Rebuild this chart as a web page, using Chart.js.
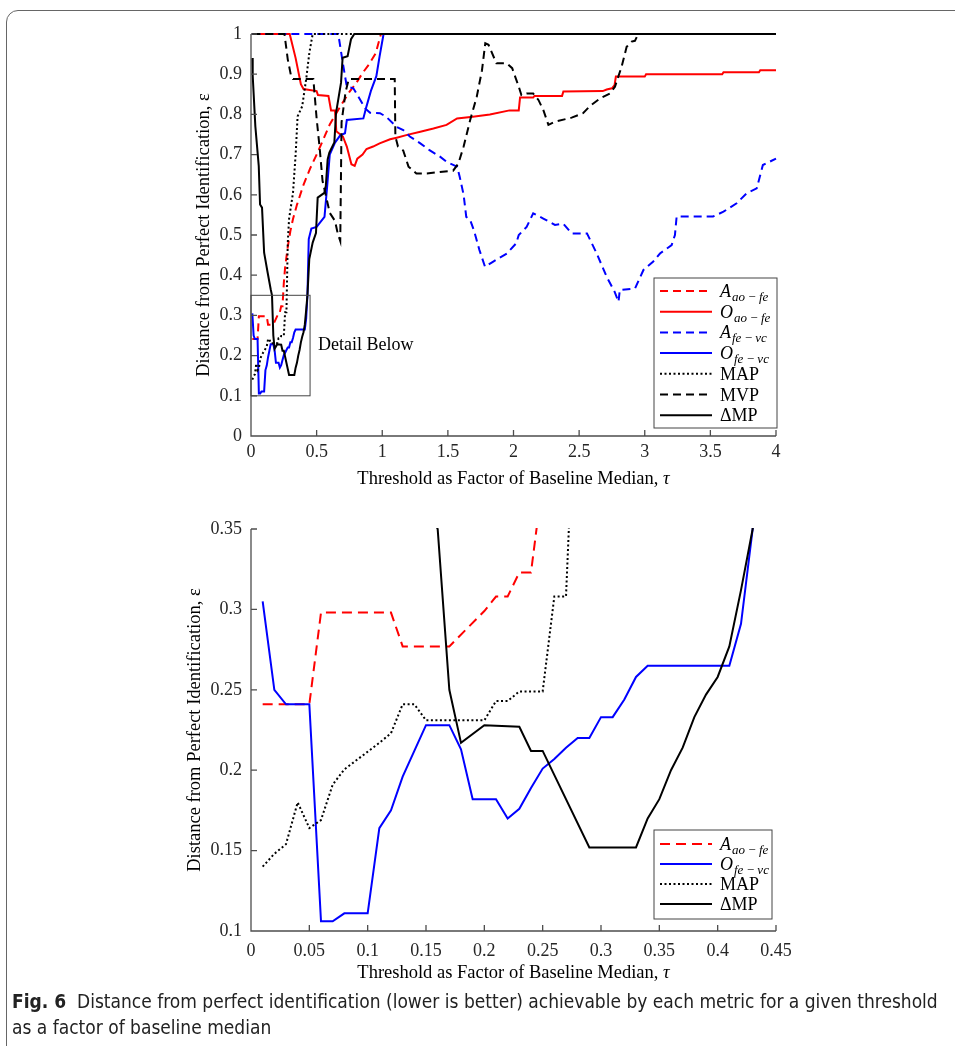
<!DOCTYPE html>
<html>
<head>
<meta charset="utf-8">
<title>Fig. 6</title>
<script src="https://cdn.jsdelivr.net/npm/chart.js@4.4.0/dist/chart.umd.min.js"></script>
<style>
  html, body { margin: 0; padding: 0; background: #fff; }
  body { width: 955px; height: 1046px; position: relative; overflow: hidden; }
  #frame { position: absolute; left: 6px; top: 10px; width: 1000px; height: 1100px;
           border: 1.5px solid #666; border-radius: 12px; box-sizing: border-box; }
  canvas { position: absolute; left: 0; }
  #topChart { top: 0; }
  #bottomChart { top: 500px; }
  #caption { position: absolute; left: 12px; top: 988px; color: #222; white-space: nowrap;
             font-family: "Liberation Sans Narrow", "DejaVu Sans Condensed", "Open Sans", sans-serif;
             font-size: 19px; line-height: 26px; }
</style>
</head>
<body>
<div id="frame"></div>
<canvas id="topChart" width="955" height="500"></canvas>
<canvas id="bottomChart" width="955" height="500"></canvas>
<div id="caption"><b>Fig. 6</b>&nbsp; Distance from perfect identification (lower is better) achievable by each metric for a given threshold<br>as a factor of baseline median</div>
<script>
// readings: threshold tau (x) and distance epsilon (y) for each metric
const aAoFeX = [0.01, 0.05, 0.06, 0.12, 0.13, 0.17, 0.20, 0.21, 0.22, 0.23, 0.24, 0.25, 0.26, 0.28, 0.30, 0.32, 0.35, 0.40, 0.45, 0.50, 0.55, 0.60, 0.65, 0.70, 0.75, 0.80, 0.85, 0.90, 0.95, 0.99, 4.00];
const aAoFeY = [0.241, 0.241, 0.298, 0.298, 0.277, 0.277, 0.299, 0.308, 0.308, 0.323, 0.323, 0.38, 0.42, 0.47, 0.51, 0.54, 0.575, 0.625, 0.665, 0.70, 0.737, 0.775, 0.803, 0.83, 0.856, 0.877, 0.903, 0.925, 0.952, 1.0, 1.0];

const oAoFeX = [0.01, 0.295, 0.34, 0.38, 0.40, 0.50, 0.51, 0.59, 0.61, 0.64, 0.65, 0.70, 0.73, 0.765, 0.79, 0.81, 0.85, 0.88, 0.93, 0.98, 1.06, 1.11, 1.19, 1.29, 1.39, 1.49, 1.57, 1.69, 1.82, 1.97, 2.04, 2.05, 2.15, 2.16, 2.37, 2.38, 2.68, 2.71, 2.75, 2.77, 2.78, 3.00, 3.01, 3.59, 3.60, 3.87, 3.88, 4.00];
const oAoFeY = [1, 1, 0.94, 0.875, 0.863, 0.858, 0.848, 0.846, 0.81, 0.81, 0.758, 0.745, 0.72, 0.676, 0.672, 0.69, 0.70, 0.714, 0.72, 0.728, 0.738, 0.742, 0.749, 0.757, 0.765, 0.774, 0.79, 0.794, 0.80, 0.81, 0.81, 0.842, 0.842, 0.846, 0.846, 0.857, 0.858, 0.862, 0.865, 0.873, 0.894, 0.894, 0.90, 0.90, 0.905, 0.905, 0.91, 0.91];

const aFeVcX = [0.01, 0.665, 0.70, 0.73, 0.78, 0.818, 0.856, 0.87, 0.907, 0.983, 1.03, 1.11, 1.16, 1.21, 1.29, 1.36, 1.44, 1.49, 1.57, 1.59, 1.62, 1.64, 1.67, 1.70, 1.74, 1.783, 1.846, 1.95, 2.02, 2.04, 2.10, 2.15, 2.227, 2.316, 2.38, 2.443, 2.56, 2.634, 2.71, 2.77, 2.80, 2.81, 2.926, 2.99, 3.065, 3.116, 3.205, 3.23, 3.243, 3.52, 3.60, 3.70, 3.777, 3.853, 3.90, 4.00];
const aFeVcY = [1, 1, 0.927, 0.869, 0.865, 0.844, 0.823, 0.815, 0.804, 0.803, 0.794, 0.769, 0.761, 0.745, 0.728, 0.711, 0.695, 0.682, 0.67, 0.645, 0.60, 0.545, 0.537, 0.51, 0.463, 0.421, 0.434, 0.454, 0.479, 0.50, 0.52, 0.554, 0.541, 0.525, 0.528, 0.504, 0.504, 0.454, 0.396, 0.359, 0.334, 0.363, 0.367, 0.413, 0.434, 0.454, 0.475, 0.50, 0.546, 0.546, 0.558, 0.579, 0.604, 0.616, 0.674, 0.69];

const oFeVcX = [0.01, 0.02, 0.03, 0.05, 0.06, 0.07, 0.08, 0.10, 0.11, 0.12, 0.13, 0.14, 0.15, 0.17, 0.18, 0.19, 0.21, 0.22, 0.23, 0.24, 0.25, 0.26, 0.27, 0.28, 0.29, 0.30, 0.31, 0.32, 0.33, 0.34, 0.41, 0.42, 0.43, 0.44, 0.46, 0.50, 0.56, 0.58, 0.60, 0.64, 0.68, 0.716, 0.73, 0.856, 0.88, 0.915, 0.955, 0.98, 1.01, 4.00];
const oFeVcY = [0.305, 0.25, 0.241, 0.241, 0.106, 0.106, 0.111, 0.111, 0.164, 0.175, 0.196, 0.212, 0.228, 0.228, 0.213, 0.182, 0.182, 0.170, 0.176, 0.189, 0.201, 0.207, 0.214, 0.220, 0.220, 0.233, 0.233, 0.244, 0.258, 0.265, 0.265, 0.291, 0.35, 0.49, 0.516, 0.52, 0.545, 0.62, 0.70, 0.73, 0.748, 0.753, 0.786, 0.79, 0.82, 0.86, 0.895, 0.945, 1.0, 1.0];

const mapX = [0.01, 0.02, 0.03, 0.04, 0.05, 0.06, 0.07, 0.08, 0.09, 0.10, 0.11, 0.12, 0.13, 0.14, 0.15, 0.20, 0.21, 0.22, 0.23, 0.25, 0.26, 0.27, 0.28, 0.29, 0.32, 0.34, 0.355, 0.39, 0.42, 0.445, 0.47, 4.00];
const mapY = [0.140, 0.148, 0.154, 0.180, 0.164, 0.169, 0.191, 0.2005, 0.206, 0.2115, 0.217, 0.223, 0.241, 0.241, 0.231, 0.231, 0.243, 0.243, 0.249, 0.249, 0.308, 0.308, 0.48, 0.54, 0.605, 0.70, 0.795, 0.82, 0.887, 0.954, 1.0, 1.0];

const mvpX = [0.01, 0.255, 0.28, 0.305, 0.32, 0.475, 0.50, 0.525, 0.545, 0.60, 0.64, 0.66, 0.68, 0.69, 0.72, 0.745, 1.095, 1.10, 1.12, 1.16, 1.20, 1.26, 1.34, 1.44, 1.54, 1.58, 1.62, 1.67, 1.72, 1.76, 1.785, 1.81, 1.87, 1.95, 1.99, 2.04, 2.06, 2.10, 2.15, 2.19, 2.227, 2.266, 2.316, 2.443, 2.53, 2.58, 2.66, 2.735, 2.773, 2.824, 2.862, 2.90, 2.925, 2.95, 4.00];
const mvpY = [1, 1, 0.937, 0.896, 0.888, 0.888, 0.79, 0.71, 0.635, 0.555, 0.535, 0.505, 0.485, 0.78, 0.855, 0.888, 0.888, 0.745, 0.72, 0.71, 0.67, 0.653, 0.653, 0.657, 0.66, 0.678, 0.72, 0.786, 0.844, 0.91, 0.977, 0.973, 0.927, 0.927, 0.915, 0.869, 0.848, 0.852, 0.852, 0.836, 0.811, 0.774, 0.782, 0.792, 0.803, 0.82, 0.84, 0.852, 0.869, 0.919, 0.968, 0.981, 0.983, 1, 1];

const dmpX = [0.01, 0.013, 0.033, 0.059, 0.069, 0.084, 0.10, 0.127, 0.15, 0.16, 0.17, 0.18, 0.20, 0.23, 0.24, 0.25, 0.29, 0.33, 0.34, 0.35, 0.36, 0.37, 0.38, 0.39, 0.40, 0.41, 0.42, 0.43, 0.444, 0.47, 0.495, 0.508, 0.559, 0.57, 0.584, 0.597, 0.635, 0.648, 0.686, 0.698, 0.736, 0.762, 0.787, 4.00];
const dmpY = [0.94, 0.896, 0.771, 0.672, 0.576, 0.568, 0.456, 0.406, 0.365, 0.35, 0.25, 0.217, 0.228, 0.227, 0.212, 0.212, 0.152, 0.152, 0.170, 0.182, 0.200, 0.214, 0.233, 0.247, 0.258, 0.277, 0.312, 0.35, 0.44, 0.481, 0.505, 0.593, 0.605, 0.622, 0.688, 0.705, 0.73, 0.804, 0.879, 0.941, 0.945, 0.987, 1.0, 1.0];

// legend names: main symbol + subscript
const seriesMain = ['A', 'O', 'A', 'O', 'MAP', 'MVP', '\u0394MP'];
const seriesSub = ['ao\u2009\u2212\u2009fe', 'ao\u2009\u2212\u2009fe', 'fe\u2009\u2212\u2009vc', 'fe\u2009\u2212\u2009vc', '', '', ''];

// ticks
const topXTicks = [0, 0.5, 1, 1.5, 2, 2.5, 3, 3.5, 4];
const topXLabels = ['0', '0.5', '1', '1.5', '2', '2.5', '3', '3.5', '4'];
const topYTicks = [0, 0.1, 0.2, 0.3, 0.4, 0.5, 0.6, 0.7, 0.8, 0.9, 1];
const topYLabels = ['0', '0.1', '0.2', '0.3', '0.4', '0.5', '0.6', '0.7', '0.8', '0.9', '1'];
const detailXTicks = [0, 0.05, 0.1, 0.15, 0.2, 0.25, 0.3, 0.35, 0.4, 0.45];
const detailXLabels = ['0', '0.05', '0.1', '0.15', '0.2', '0.25', '0.3', '0.35', '0.4', '0.45'];
const detailYTicks = [0.1, 0.15, 0.2, 0.25, 0.3, 0.35];
const detailYLabels = ['0.1', '0.15', '0.2', '0.25', '0.3', '0.35'];

const allSeries = [
    [aAoFeX, aAoFeY], [oAoFeX, oAoFeY], [aFeVcX, aFeVcY], [oFeVcX, oFeVcY],
    [mapX, mapY], [mvpX, mvpY], [dmpX, dmpY]
];
const lineColor = ['#ff0000', '#ff0000', '#0000ff', '#0000ff', '#000000', '#000000', '#000000'];
const lineKind = ['dash', 'solid', 'dash', 'solid', 'dot', 'dash', 'solid'];

const SERIF = '"Liberation Serif", "Times New Roman", serif';
Chart.defaults.font.family = SERIF;
Chart.defaults.font.size = 18;
Chart.defaults.color = '#262626';

function makeDataset(i, dashLen, clip) {
    const [xs, ys] = allSeries[i];
    let dash = [];
    if (lineKind[i] === 'dash') dash = dashLen;
    if (lineKind[i] === 'dot') dash = [2, 2.5];
    return {
        label: seriesMain[i] + (seriesSub[i] ? '_' + seriesSub[i] : ''),
        main: seriesMain[i],
        sub: seriesSub[i],
        data: xs.map((x, k) => ({ x: x, y: ys[k] })),
        borderColor: lineColor[i],
        borderWidth: 2,
        borderDash: dash,
        pointRadius: 0,
        tension: 0,
        fill: false,
        clip: clip,
        order: 10 - i   // later metrics are drawn on top
    };
}

function drawLegendLabel(ctx, ds, x, y) {
    ctx.textAlign = 'left';
    ctx.textBaseline = 'alphabetic';
    if (ds.sub) {
        ctx.font = 'italic 18px ' + SERIF;
        ctx.fillText(ds.main, x, y + 6);
        const w = ctx.measureText(ds.main).width;
        ctx.font = 'italic 13px ' + SERIF;
        ctx.fillText(ds.sub, x + w + 1, y + 10);
    } else {
        ctx.font = '18px ' + SERIF;
        ctx.fillText(ds.main, x, y + 6);
    }
}

// axes with inward ticks, titles, legend box and notes
const decor = {
    id: 'decor',
    afterDraw(chart, args, o) {
        const ctx = chart.ctx;
        const a = chart.chartArea;
        const xs = chart.scales.x, ys = chart.scales.y;
        ctx.save();

        ctx.strokeStyle = '#4d4d4d';
        ctx.lineWidth = 1.3;
        ctx.setLineDash([]);
        ctx.beginPath();
        ctx.moveTo(a.left, a.top);
        ctx.lineTo(a.left, a.bottom);
        ctx.lineTo(a.right, a.bottom);
        xs.ticks.forEach(t => {
            const p = xs.getPixelForValue(t.value);
            ctx.moveTo(p, a.bottom);
            ctx.lineTo(p, a.bottom - 6);
        });
        ys.ticks.forEach(t => {
            const p = ys.getPixelForValue(t.value);
            ctx.moveTo(a.left, p);
            ctx.lineTo(a.left + 6, p);
        });
        ctx.stroke();

        // axis titles
        ctx.fillStyle = '#000';
        ctx.textBaseline = 'middle';
        ctx.font = '18.5px ' + SERIF;
        const t1 = 'Threshold as Factor of Baseline Median, ';
        const w1 = ctx.measureText(t1).width;
        ctx.font = 'italic 18.5px ' + SERIF;
        const w2 = ctx.measureText('\u03c4').width;
        const sx = (a.left + a.right) / 2 - (w1 + w2) / 2;
        ctx.textAlign = 'left';
        ctx.font = '18.5px ' + SERIF;
        ctx.fillText(t1, sx, o.xTitleY);
        ctx.font = 'italic 18.5px ' + SERIF;
        ctx.fillText('\u03c4', sx + w1, o.xTitleY);

        ctx.save();
        ctx.translate(o.yTitleX, (a.top + a.bottom) / 2);
        ctx.rotate(-Math.PI / 2);
        ctx.textAlign = 'center';
        ctx.font = '18.5px ' + SERIF;
        ctx.fillText('Distance from Perfect Identification, \u03b5', 0, 0);
        ctx.restore();

        // zoom window drawn on the overview
        if (o.detail) {
            const l = xs.getPixelForValue(o.detail.x0), r = xs.getPixelForValue(o.detail.x1);
            const t = ys.getPixelForValue(o.detail.y1), b = ys.getPixelForValue(o.detail.y0);
            ctx.strokeStyle = '#444';
            ctx.lineWidth = 1;
            ctx.strokeRect(l, t, r - l, b - t);
            ctx.fillStyle = '#000';
            ctx.font = '18px ' + SERIF;
            ctx.textAlign = 'left';
            ctx.textBaseline = 'alphabetic';
            ctx.fillText('Detail Below', r + 8, (t + b) / 2 + 4);
        }

        // legend
        const lg = o.legend;
        ctx.fillStyle = '#fff';
        ctx.fillRect(lg.left, lg.top, lg.right - lg.left, lg.bottom - lg.top);
        ctx.strokeStyle = '#444';
        ctx.lineWidth = 1;
        ctx.strokeRect(lg.left, lg.top, lg.right - lg.left, lg.bottom - lg.top);
        chart.data.datasets.forEach((ds, k) => {
            const yy = lg.row0 + k * lg.gap;
            ctx.strokeStyle = ds.borderColor;
            ctx.lineWidth = ds.borderWidth;
            ctx.setLineDash(ds.borderDash);
            ctx.beginPath();
            ctx.moveTo(lg.left + 6, yy);
            ctx.lineTo(lg.left + 58, yy);
            ctx.stroke();
            ctx.setLineDash([]);
            ctx.fillStyle = '#000';
            drawLegendLabel(ctx, ds, lg.left + 66, yy);
        });

        ctx.restore();
    }
};

function axis(min, max, ticks, labels, fit, pad) {
    return {
        type: 'linear',
        min: min,
        max: max,
        afterBuildTicks: s => { s.ticks = ticks.map(v => ({ value: v })); },
        afterFit: fit,
        ticks: {
            callback: (v, i) => labels[i],
            autoSkip: false,
            maxRotation: 0,
            padding: pad,
            color: '#262626',
            font: { family: SERIF, size: 18 }
        },
        grid: { display: false, drawTicks: false },
        border: { display: false }
    };
}

// overview chart
new Chart(document.getElementById('topChart'), {
    type: 'line',
    data: { datasets: [0, 1, 2, 3, 4, 5, 6].map(i => makeDataset(i, [8, 5], 3)) },
    options: {
        responsive: false,
        animation: false,
        layout: { padding: { left: 0, right: 179, top: 34, bottom: 0 } },
        scales: {
            x: axis(0, 4, topXTicks, topXLabels, s => { s.height = 64; }, 5),
            y: axis(0, 1, topYTicks, topYLabels, s => { s.width = 251; }, 9)
        },
        plugins: {
            legend: { display: false },
            tooltip: { enabled: false },
            decor: {
                xTitleY: 479,
                yTitleX: 204,
                detail: { x0: 0, x1: 0.45, y0: 0.1, y1: 0.35 },
                legend: { left: 654, top: 278, right: 777, bottom: 428, row0: 291, gap: 20.7 }
            }
        }
    },
    plugins: [decor]
});

// detail chart
new Chart(document.getElementById('bottomChart'), {
    type: 'line',
    data: { datasets: [0, 3, 4, 6].map(i => makeDataset(i, [10, 6], 1)) },
    options: {
        responsive: false,
        animation: false,
        layout: { padding: { left: 0, right: 179, top: 29, bottom: 0 } },
        scales: {
            x: axis(0, 0.45, detailXTicks, detailXLabels, s => { s.height = 69; }, 9),
            y: axis(0.1, 0.35, detailYTicks, detailYLabels, s => { s.width = 251; }, 9)
        },
        plugins: {
            legend: { display: false },
            tooltip: { enabled: false },
            decor: {
                xTitleY: 473,
                yTitleX: 195,
                legend: { left: 654, top: 330, right: 772, bottom: 419, row0: 344, gap: 20 }
            }
        }
    },
    plugins: [decor]
});
</script>
</body>
</html>
